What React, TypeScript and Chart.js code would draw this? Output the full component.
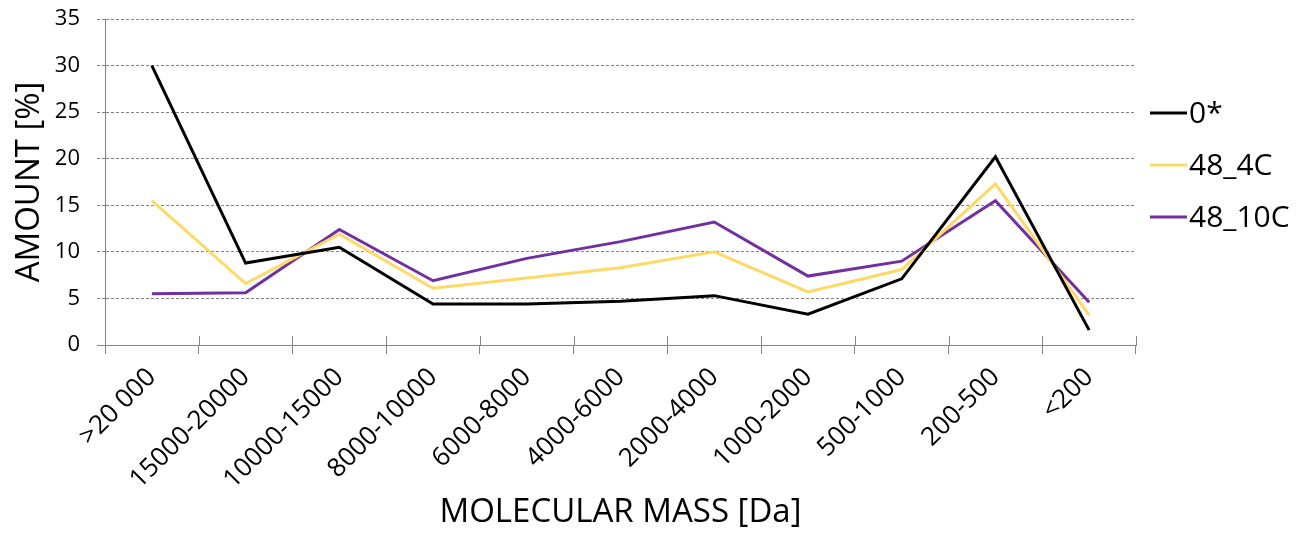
import React, { useEffect, useRef } from "react";
import { Chart, registerables } from "chart.js";

Chart.register(...registerables);

const categories = [
  ">20 000",
  "15000-20000",
  "10000-15000",
  "8000-10000",
  "6000-8000",
  "4000-6000",
  "2000-4000",
  "1000-2000",
  "500-1000",
  "200-500",
  "<200",
];
const series0 = [30.0, 8.8, 10.5, 4.4, 4.4, 4.7, 5.3, 3.3, 7.1, 20.2, 1.6];
const series4C = [15.5, 6.6, 11.9, 6.1, 7.2, 8.3, 10.0, 5.7, 8.1, 17.3, 3.2];
const series10C = [5.5, 5.6, 12.4, 6.9, 9.3, 11.1, 13.2, 7.4, 9.0, 15.5, 4.6];
const seriesNames = ["0*", "48_4C", "48_10C"];
const seriesColors = ["#000000", "#FFD966", "#7030A0"];
const yMin = 0;
const yMax = 35;
const yStep = 5;
const xTitle = "MOLECULAR MASS [Da]";
const yTitle = "AMOUNT [%]";

const FONT = '"Open Sans", "DejaVu Sans", sans-serif';
const AXIS_GRAY = "#868686";
const GRID_GRAY = "#858585";

const sideLegend = {
  id: "sideLegend",
  afterDraw(chart: any) {
    const { ctx, chartArea } = chart;
    ctx.save();
    chart.data.datasets.forEach((ds: any, i: number) => {
      const y = chartArea.top + 94 + i * 52;
      const x0 = chartArea.right + 14;
      ctx.strokeStyle = ds.borderColor;
      ctx.lineWidth = 3;
      ctx.beginPath();
      ctx.moveTo(x0, y);
      ctx.lineTo(x0 + 37, y);
      ctx.stroke();
      ctx.fillStyle = "#000";
      ctx.font = `30px ${FONT}`;
      ctx.textBaseline = "middle";
      ctx.textAlign = "left";
      ctx.fillText(ds.label, x0 + 39, y + 1);
    });
    ctx.restore();
  },
};

const crossTicks = {
  id: "crossTicks",
  afterDraw(chart: any) {
    const { ctx } = chart;
    const xs = chart.scales.x;
    const n = xs.ticks.length;
    ctx.save();
    ctx.strokeStyle = AXIS_GRAY;
    ctx.lineWidth = 1;
    for (let i = 0; i <= n; i++) {
      const x = Math.round(xs.left + (i * (xs.right - xs.left)) / n) + 0.5;
      ctx.beginPath();
      ctx.moveTo(x, xs.top - 9);
      ctx.lineTo(x, xs.top);
      ctx.stroke();
    }
    ctx.restore();
  },
};

export default function App() {
  const ref = useRef<HTMLCanvasElement | null>(null);
  useEffect(() => {
    if (!ref.current) return;
    const datasets = [series0, series4C, series10C].map((d, i) => ({
      label: seriesNames[i],
      data: d,
      borderColor: seriesColors[i],
      backgroundColor: seriesColors[i],
      borderWidth: 3,
      pointRadius: 0,
      tension: 0,
      fill: false,
    }));
    const chart = new Chart(ref.current, {
      type: "line",
      data: { labels: categories, datasets },
      plugins: [sideLegend, crossTicks],
      options: {
        responsive: false,
        animation: false,
        layout: { padding: { top: 0, right: 169, bottom: 0, left: 0 } },
        plugins: {
          legend: { display: false },
          tooltip: { enabled: false },
        },
        scales: {
          x: {
            offset: true,
            afterFit: (s: any) => {
              s.height = 189;
              s.paddingLeft = 0;
              s.paddingRight = 0;
            },
            grid: {
              offset: true,
              drawOnChartArea: false,
              drawTicks: true,
              tickLength: 9,
              color: AXIS_GRAY,
              tickColor: AXIS_GRAY,
            },
            border: { display: true, color: AXIS_GRAY, width: 1 },
            ticks: {
              autoSkip: false,
              minRotation: 45,
              maxRotation: 45,
              padding: 8,
              color: "#000",
              font: { family: FONT, size: 26 },
            },
            title: {
              display: true,
              text: xTitle,
              color: "#000",
              font: { family: FONT, size: 33 },
              padding: { top: 0, bottom: 2 },
            },
          },
          y: {
            min: yMin,
            max: yMax,
            afterFit: (s: any) => {
              s.width = 105;
              s.paddingTop = 19;
              s.paddingBottom = 0;
            },
            ticks: {
              stepSize: yStep,
              padding: 17,
              color: "#000",
              font: { family: FONT, size: 22 },
            },
            grid: {
              color: GRID_GRAY,
              tickColor: (c: any) => (c.index === 0 ? AXIS_GRAY : GRID_GRAY),
              tickLength: 8,
              tickBorderDash: (c: any) => (c.index === 0 ? [] : [3, 2]),
            },
            border: { display: true, color: AXIS_GRAY, width: 1, dash: [3, 2] },
            title: {
              display: true,
              text: yTitle,
              color: "#000",
              font: { family: FONT, size: 33 },
              padding: { top: 10, bottom: 4 },
            },
          },
        },
      },
    });
    return () => chart.destroy();
  }, []);
  return (
    <canvas
      ref={ref}
      width={1305}
      height={534}
      style={{ position: "fixed", left: 0, top: 0, display: "block" }}
    />
  );
}
